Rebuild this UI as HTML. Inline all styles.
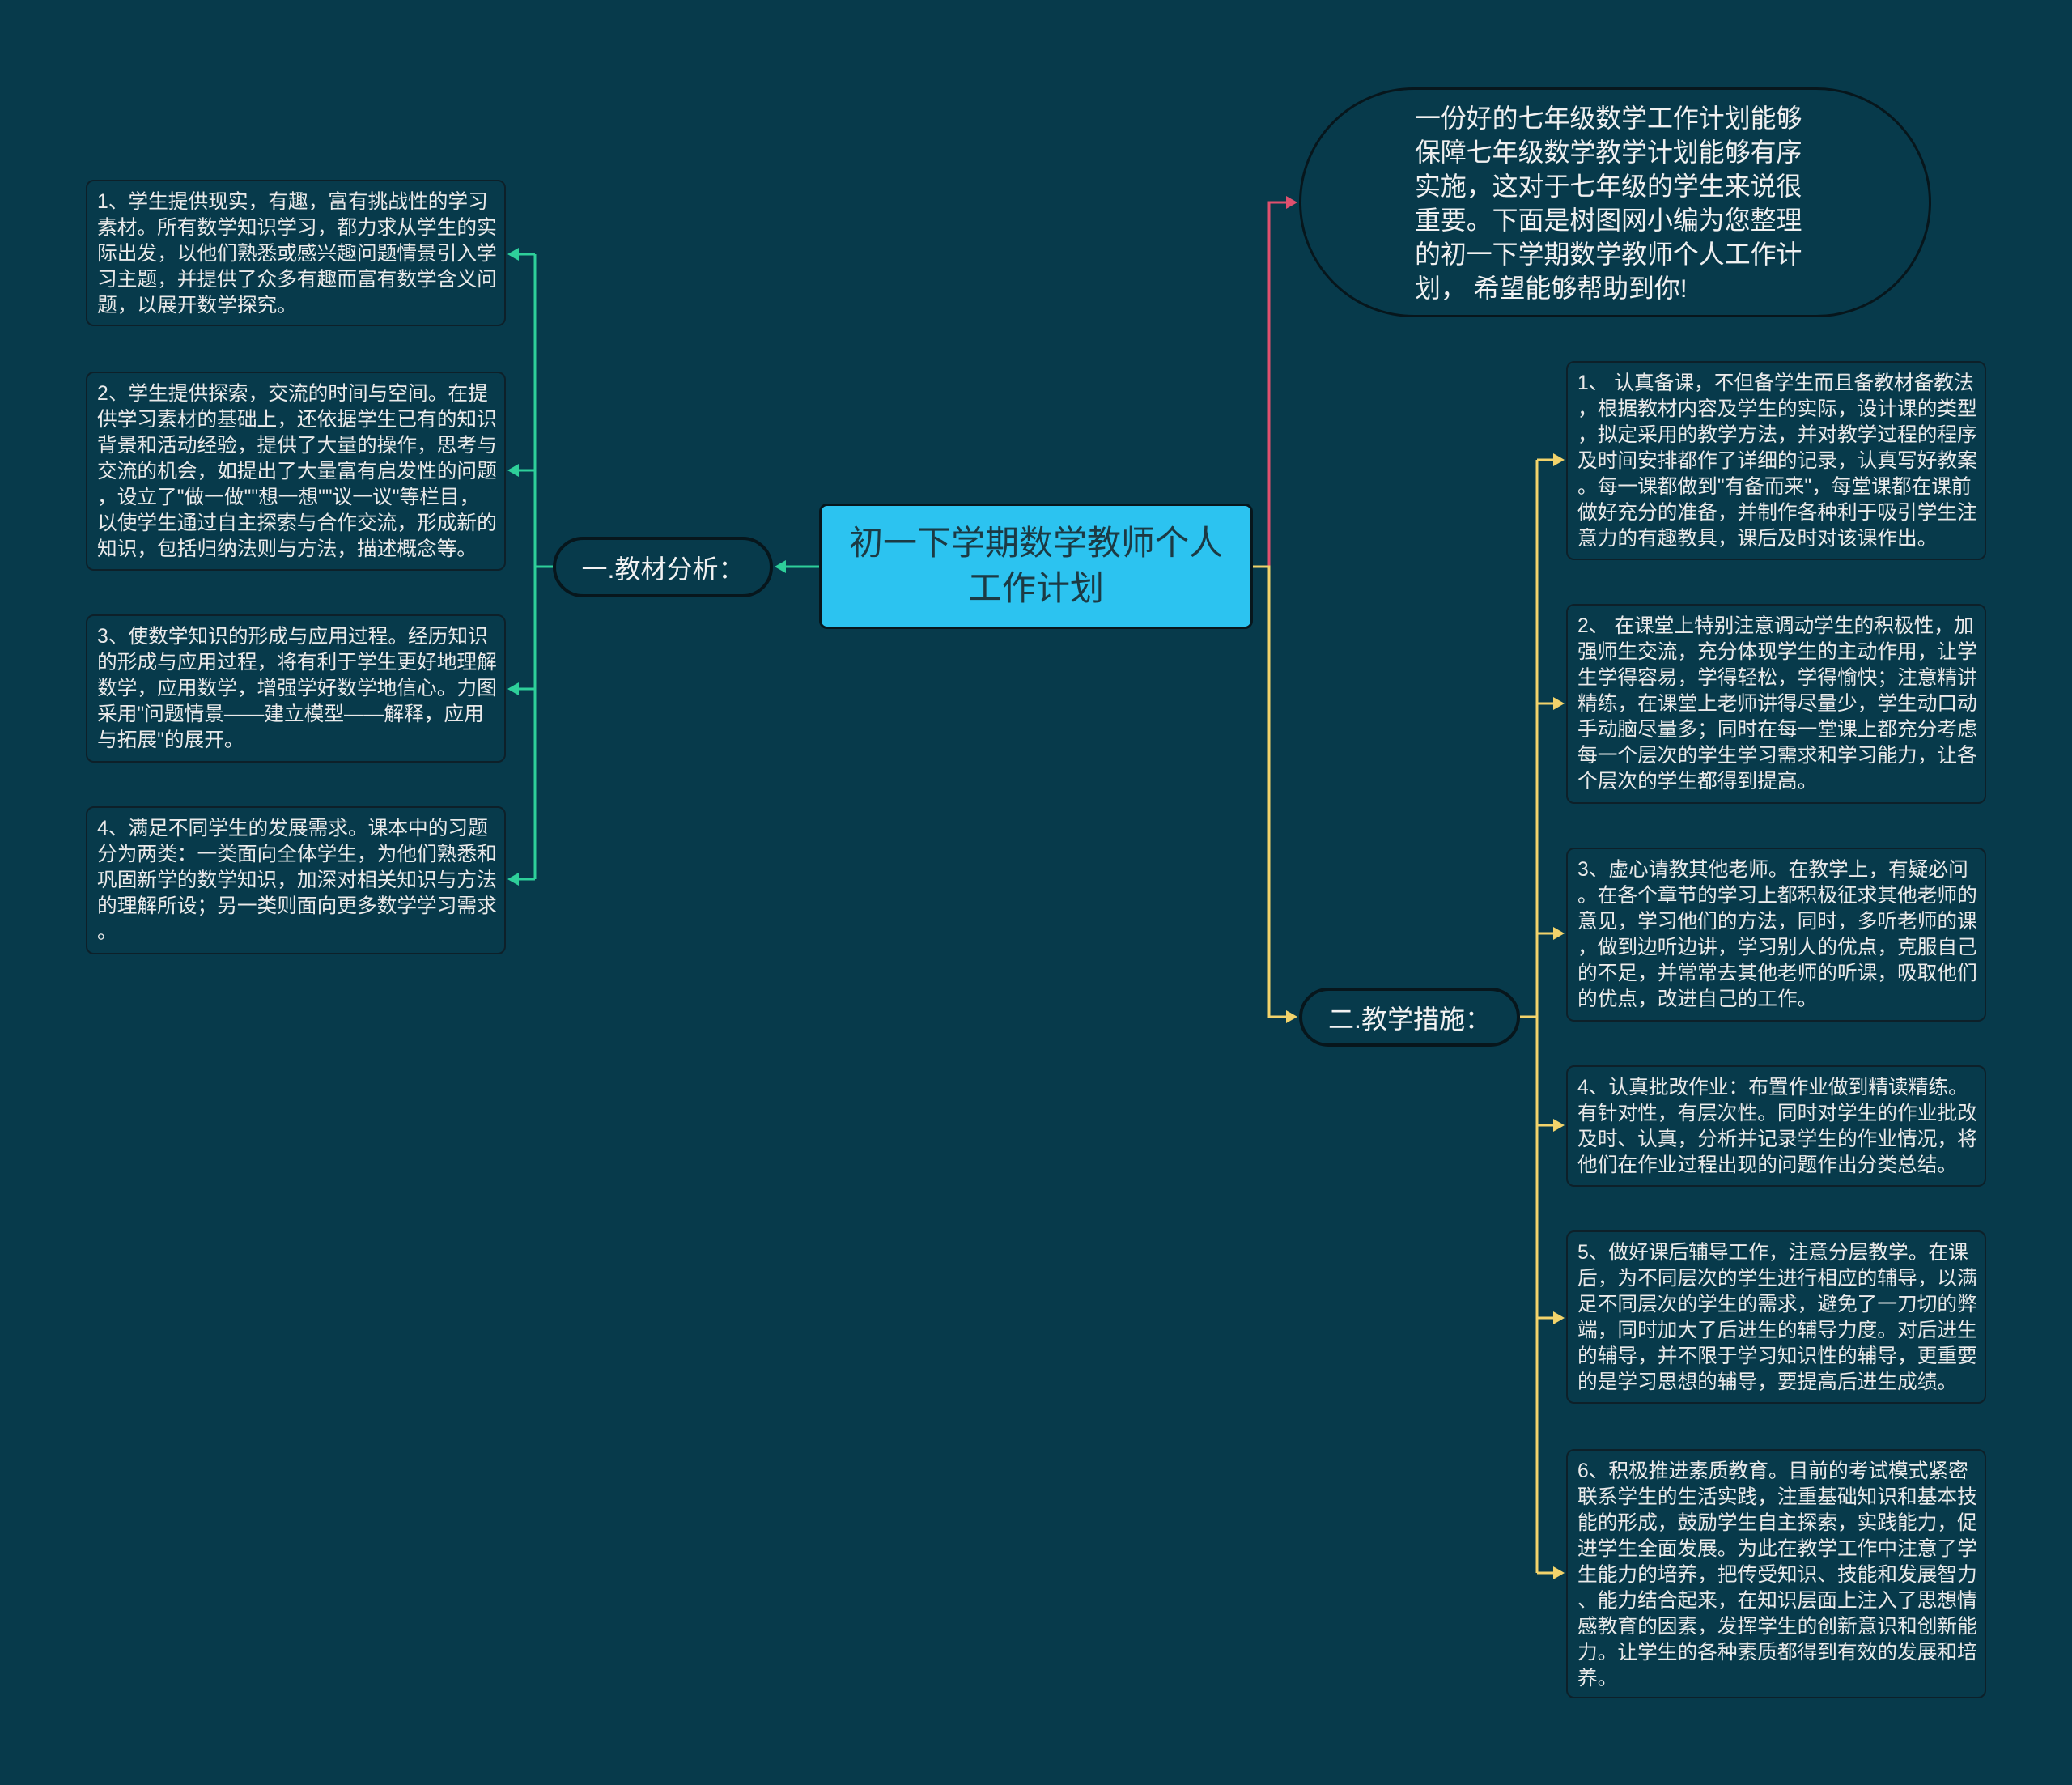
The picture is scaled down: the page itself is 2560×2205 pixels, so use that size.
<!DOCTYPE html>
<html><head><meta charset="utf-8"><style>
body{margin:0;width:2560px;height:2205px;background:#073a4b;position:relative;overflow:hidden;font-family:"Liberation Sans","Noto Sans CJK SC",sans-serif;}
.b{position:absolute;box-sizing:border-box;border:2px solid #0d2029;border-radius:10px;color:#eaeaea;font-size:24.7px;line-height:32px;padding:10px 0 0 12px;white-space:nowrap;}
.p{position:absolute;box-sizing:border-box;border:4px solid #07161c;border-radius:40px;color:#f2f2f2;font-size:32px;display:flex;align-items:center;justify-content:center;}
</style></head><body>
<svg width="2560" height="2205" style="position:absolute;left:0;top:0">
<g fill="none" stroke-width="3">
<path d="M1012 700 H965" stroke="#2ecf9a"/>
<path d="M683 700 H661 M661 314 V1086 M661 314 H635 M661 581 H635 M661 851 H635 M661 1086 H635" stroke="#2ecf9a"/>
<path d="M1548 700 H1568 V250 H1590" stroke="#e0506e"/>
<path d="M1548 700 H1568 V1256 H1590" stroke="#f2d36b"/>
<path d="M1878 1256 H1899 M1899 568 V1943 M1899 568 H1920 M1899 869 H1920 M1899 1153 H1920 M1899 1390 H1920 M1899 1628 H1920 M1899 1943 H1920" stroke="#f2d36b"/>
</g>
<g fill="#2ecf9a">
<path d="M957 700 l14 -8 v16z"/>
<path d="M627 314 l14 -8 v16z"/><path d="M627 581 l14 -8 v16z"/><path d="M627 851 l14 -8 v16z"/><path d="M627 1086 l14 -8 v16z"/>
</g>
<path d="M1603 250 l-14 -8 v16z" fill="#e0506e"/>
<g fill="#f2d36b">
<path d="M1603 1256 l-14 -8 v16z"/>
<path d="M1933 568 l-14 -8 v16z"/><path d="M1933 869 l-14 -8 v16z"/><path d="M1933 1153 l-14 -8 v16z"/><path d="M1933 1390 l-14 -8 v16z"/><path d="M1933 1628 l-14 -8 v16z"/><path d="M1933 1943 l-14 -8 v16z"/>
</g>
</svg>

<div style="position:absolute;left:1012px;top:622px;width:536px;height:155px;box-sizing:border-box;background:#2cc3f0;border:3px solid #07161c;border-radius:10px;color:#1c3a44;font-size:42px;line-height:56px;text-align:center;padding-top:18px;">初一下学期数学教师个人<br>工作计划</div>

<div class="p" style="left:683px;top:663px;width:272px;height:75px;">一.教材分析：</div>
<div class="p" style="left:1605px;top:1220px;width:273px;height:73px;">二.教学措施：</div>

<div style="position:absolute;left:1605px;top:108px;width:781px;height:284px;box-sizing:border-box;border:3px solid #07161c;border-radius:142px;color:#f0f0f0;font-size:31.9px;line-height:42px;padding:14px 0 0 140px;white-space:nowrap;">一份好的七年级数学工作计划能够<br>保障七年级数学教学计划能够有序<br>实施，这对于七年级的学生来说很<br>重要。下面是树图网小编为您整理<br>的初一下学期数学教师个人工作计<br>划， 希望能够帮助到你!</div>

<div class="b" style="left:106px;top:222px;width:519px;height:181px;">1、学生提供现实，有趣，富有挑战性的学习<br>素材。所有数学知识学习，都力求从学生的实<br>际出发，以他们熟悉或感兴趣问题情景引入学<br>习主题，并提供了众多有趣而富有数学含义问<br>题，以展开数学探究。</div>
<div class="b" style="left:106px;top:459px;width:519px;height:246px;">2、学生提供探索，交流的时间与空间。在提<br>供学习素材的基础上，还依据学生已有的知识<br>背景和活动经验，提供了大量的操作，思考与<br>交流的机会，如提出了大量富有启发性的问题<br>，设立了"做一做""想一想""议一议"等栏目，<br>以使学生通过自主探索与合作交流，形成新的<br>知识，包括归纳法则与方法，描述概念等。</div>
<div class="b" style="left:106px;top:759px;width:519px;height:183px;">3、使数学知识的形成与应用过程。经历知识<br>的形成与应用过程，将有利于学生更好地理解<br>数学，应用数学，增强学好数学地信心。力图<br>采用"问题情景——建立模型——解释，应用<br>与拓展"的展开。</div>
<div class="b" style="left:106px;top:996px;width:519px;height:183px;">4、满足不同学生的发展需求。课本中的习题<br>分为两类：一类面向全体学生，为他们熟悉和<br>巩固新学的数学知识，加深对相关知识与方法<br>的理解所设；另一类则面向更多数学学习需求<br>。</div>

<div class="b" style="left:1935px;top:446px;width:519px;height:246px;">1、 认真备课，不但备学生而且备教材备教法<br>，根据教材内容及学生的实际，设计课的类型<br>，拟定采用的教学方法，并对教学过程的程序<br>及时间安排都作了详细的记录，认真写好教案<br>。每一课都做到"有备而来"，每堂课都在课前<br>做好充分的准备，并制作各种利于吸引学生注<br>意力的有趣教具，课后及时对该课作出。</div>
<div class="b" style="left:1935px;top:746px;width:519px;height:247px;">2、 在课堂上特别注意调动学生的积极性，加<br>强师生交流，充分体现学生的主动作用，让学<br>生学得容易，学得轻松，学得愉快；注意精讲<br>精练，在课堂上老师讲得尽量少，学生动口动<br>手动脑尽量多；同时在每一堂课上都充分考虑<br>每一个层次的学生学习需求和学习能力，让各<br>个层次的学生都得到提高。</div>
<div class="b" style="left:1935px;top:1047px;width:519px;height:215px;">3、虚心请教其他老师。在教学上，有疑必问<br>。在各个章节的学习上都积极征求其他老师的<br>意见，学习他们的方法，同时，多听老师的课<br>，做到边听边讲，学习别人的优点，克服自己<br>的不足，并常常去其他老师的听课，吸取他们<br>的优点，改进自己的工作。</div>
<div class="b" style="left:1935px;top:1316px;width:519px;height:150px;">4、认真批改作业：布置作业做到精读精练。<br>有针对性，有层次性。同时对学生的作业批改<br>及时、认真，分析并记录学生的作业情况，将<br>他们在作业过程出现的问题作出分类总结。</div>
<div class="b" style="left:1935px;top:1520px;width:519px;height:214px;">5、做好课后辅导工作，注意分层教学。在课<br>后，为不同层次的学生进行相应的辅导，以满<br>足不同层次的学生的需求，避免了一刀切的弊<br>端，同时加大了后进生的辅导力度。对后进生<br>的辅导，并不限于学习知识性的辅导，更重要<br>的是学习思想的辅导，要提高后进生成绩。</div>
<div class="b" style="left:1935px;top:1790px;width:519px;height:308px;">6、积极推进素质教育。目前的考试模式紧密<br>联系学生的生活实践，注重基础知识和基本技<br>能的形成，鼓励学生自主探索，实践能力，促<br>进学生全面发展。为此在教学工作中注意了学<br>生能力的培养，把传受知识、技能和发展智力<br>、能力结合起来，在知识层面上注入了思想情<br>感教育的因素，发挥学生的创新意识和创新能<br>力。让学生的各种素质都得到有效的发展和培<br>养。</div>
</body></html>
